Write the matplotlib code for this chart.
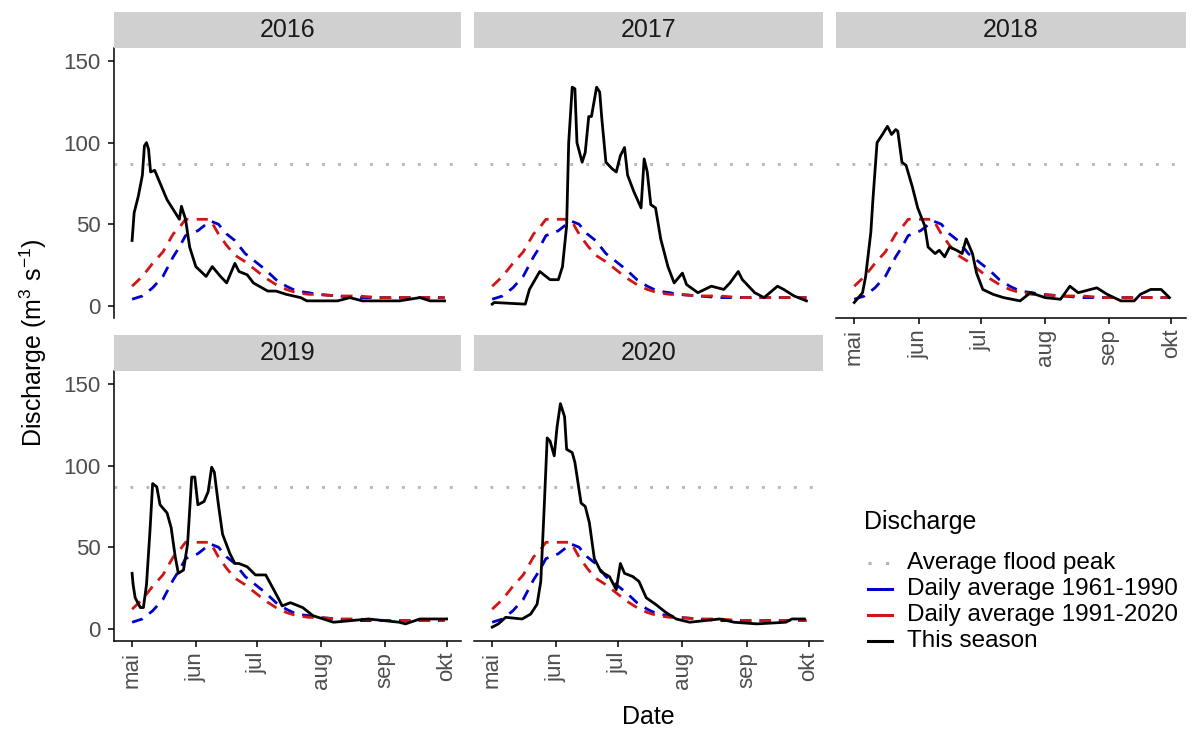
import matplotlib
matplotlib.use("Agg")
import matplotlib.pyplot as plt
from matplotlib.lines import Line2D

plt.rcParams['font.family'] = ['Liberation Sans', 'DejaVu Sans']
plt.rcParams['mathtext.fontset'] = 'custom'
plt.rcParams['mathtext.rm'] = 'Liberation Sans'
plt.rcParams['mathtext.it'] = 'Liberation Sans:italic'

# x values are days since 1 May
month_days = [0, 31, 61, 92, 123, 153]
month_labels = ['mai', 'jun', 'jul', 'aug', 'sep', 'okt']

flood_peak = 87

# daily climatology (same for every season)
clim_days = [0, 5, 10, 15, 20, 23, 26, 32, 38, 42, 46, 50, 55, 60, 65, 70, 75, 80, 86, 90,
             100, 110, 120, 130, 140, 152]
avg_1961_1990 = [4, 6, 11, 18, 30, 36, 43, 46, 52, 50, 44, 40, 32, 27, 22, 16, 12, 9, 8, 7,
                 6, 5, 5, 5, 5, 5]
avg_1991_2020 = [12, 18, 26, 33, 44, 48, 53, 53, 53, 44, 37, 31, 27, 22, 17, 13, 10, 8, 7, 7,
                 6, 6, 5, 5, 5, 5]

days_2016 = [0, 1, 3, 5, 6, 7, 8, 9, 11, 13, 17, 21, 23, 24, 26, 28, 31, 36, 39, 43, 46, 50,
             52, 56, 59, 66, 70, 75, 82, 85, 100, 106, 112, 130, 140, 145, 152]
flow_2016 = [40, 57, 67, 80, 98, 100, 96, 82, 83, 77, 65, 57, 53, 61, 53, 36, 24, 18, 24, 18,
             14, 26, 21, 19, 14, 9, 9, 7, 5, 3, 3, 5, 3, 3, 5, 3, 3]

days_2017 = [0, 1, 16, 18, 23, 28, 32, 34, 36, 37, 38.7, 40, 41, 43.5, 45, 46.7, 48, 50.5, 52,
             53, 55, 58, 60, 62, 64, 65.5, 68.5, 72, 73.5, 75, 76.7, 79, 81.5, 85, 88, 92, 94,
             99.5, 106, 112, 115, 119, 121, 127, 131.5, 138, 141, 146, 152]
flow_2017 = [1, 2, 1, 10, 21, 16, 16, 24, 49, 100, 134, 133, 100, 88, 94, 116, 116, 134, 131,
             115, 88, 84, 82, 92, 97, 80, 70, 60, 90, 82, 62, 60, 41, 24, 14, 20, 13,
             8, 12, 10, 14, 21, 16, 8, 5, 12, 10, 6, 3]

days_2018 = [0, 4, 5.5, 8, 9, 11, 13.6, 16, 18, 20, 21, 23, 25, 28, 30.6, 34, 35.6, 39, 41,
             43.6, 46, 49.4, 52, 54, 57, 59, 62, 67, 72, 80, 85, 92, 99.5, 104, 108, 117, 122,
             128.6, 135, 138, 143, 148, 152]
flow_2018 = [2, 8, 18, 45, 65, 100, 105, 110, 105, 108, 107, 88, 86, 73, 60, 49, 36, 32, 34,
             30, 36, 34, 32, 41, 32, 20, 10, 7, 5, 3, 8, 5, 4, 12, 8, 11, 7,
             3, 3, 7, 10, 10, 5]

days_2019 = [0, 0.5, 1.5, 4, 5.5, 7, 8.7, 10, 12, 13.6, 17, 19, 21, 22.5, 25, 27, 29, 30.5, 32,
             35, 37, 38.7, 40, 42, 44, 47.6, 50, 52, 56, 60, 65, 67.6, 71, 73, 77, 83, 88, 93,
             98, 115, 130, 133, 140, 153]
flow_2019 = [34, 27, 19, 13, 13, 27, 60, 89, 87, 76, 71, 62, 44, 34, 36, 52, 93, 93, 76,
             78, 84, 99, 96, 76, 58, 46, 40, 40, 38, 33, 33, 27, 19, 14, 16, 13, 8, 6,
             4, 6, 4, 3, 6, 6]

days_2020 = [0, 3, 6.5, 14.5, 18.6, 21.7, 23.5, 25, 26.6, 28, 30, 31.4, 33, 35, 36, 38.7, 40,
             43, 45, 47, 49.4, 52.6, 56.7, 60, 62, 64, 68, 71, 74.5, 79, 84, 89, 95.5, 110,
             117, 128, 142, 145, 151]
flow_2020 = [1, 3, 7, 6, 9, 15, 29, 70, 117, 115, 106, 124, 138, 130, 110, 108, 102, 77,
             75, 65, 43, 35, 32, 24, 40, 34, 32, 29, 19, 15, 10, 6, 4, 6, 4, 3, 4, 6, 6]

years = ['2016', '2017', '2018', '2019', '2020']
season_days = [days_2016, days_2017, days_2018, days_2019, days_2020]
season_flow = [flow_2016, flow_2017, flow_2018, flow_2019, flow_2020]

legend_labels = ['Average flood peak', 'Daily average 1961-1990', 'Daily average 1991-2020',
                 'This season']

GREY = '#b3b3b3'
BLUE = '#0000cc'
RED = '#d01515'
DOTS = (0, (1, 4.75))
DASH = (0, (4, 3))

W, H = 1192, 729
fig = plt.figure(figsize=(W / 100, H / 100), dpi=100)

col_px = [(114, 461), (474, 823), (836, 1186)]
row_px = [(48, 318), (371, 641)]
strip_h = 36


def px_rect(x0, x1, y0, y1):
    return [x0 / W, 1 - y1 / H, (x1 - x0) / W, (y1 - y0) / H]


for i, year in enumerate(years):
    r, c = divmod(i, 3)
    x0, x1 = col_px[c]
    y0, y1 = row_px[r]
    ax = fig.add_axes(px_rect(x0, x1, y0, y1))

    ax.axhline(flood_peak, color=GREY, lw=2.0, linestyle=DOTS, zorder=1)
    ax.plot(clim_days, avg_1961_1990, color=BLUE, lw=2.0, linestyle=DASH, zorder=2)
    ax.plot(clim_days, avg_1991_2020, color=RED, lw=2.0, linestyle=DASH, zorder=3)
    ax.plot(season_days[i], season_flow[i], color='black', lw=2.0, zorder=4)

    ax.set_xlim(-8.8, 160)
    ax.set_ylim(-7.5, 158)
    for s in ['top', 'right']:
        ax.spines[s].set_visible(False)

    # y axis only on the first column
    if c == 0:
        ax.spines['left'].set_linewidth(1.1)
        ax.set_yticks([0, 50, 100, 150])
        ax.tick_params(axis='y', length=4, width=1.1, labelsize=16, labelcolor='#4d4d4d',
                       pad=5.5)
    else:
        ax.spines['left'].set_visible(False)
        ax.set_yticks([])

    # x axis on panels with nothing below them
    if r == 1 or c == 2:
        ax.spines['bottom'].set_linewidth(1.1)
        ax.set_xticks(month_days)
        ax.set_xticklabels(month_labels, rotation=90)
        ax.tick_params(axis='x', length=4.3, width=1.1, labelsize=16, labelcolor='#4d4d4d',
                       pad=3.5)
    else:
        ax.spines['bottom'].set_visible(False)
        ax.set_xticks([])

    # facet strip
    sax = fig.add_axes(px_rect(x0, x1, y0 - strip_h, y0))
    sax.set_facecolor('#d0d0d0')
    sax.set_xticks([])
    sax.set_yticks([])
    for s in sax.spines.values():
        s.set_visible(False)
    sax.text(0.5, 0.5, year, ha='center', va='center', fontsize=18, color='#1a1a1a',
             transform=sax.transAxes)

fig.text(33 / W, 1 - 343 / H, r'Discharge (m$^{3}$ s$^{-1}$)', rotation=90,
         ha='center', va='center', fontsize=18)
fig.text(648 / W, 1 - 717 / H, 'Date', ha='center', va='center', fontsize=18)

# legend, drawn by hand in figure pixels
fig.text(864 / W, 1 - 522 / H, 'Discharge', ha='left', va='center', fontsize=18)
key_styles = [(GREY, DOTS), (BLUE, '-'), (RED, '-'), ('black', '-')]
key_y = [563, 589, 615, 641]
for (col, ls), yy, lab in zip(key_styles, key_y, legend_labels):
    fy = 1 - yy / H
    fig.add_artist(Line2D([868 / W, 892 / W], [fy, fy], color=col, lw=2.2, linestyle=ls))
    fig.text(907 / W, fy, lab, ha='left', va='center', fontsize=17.5)

fig.savefig('out.png', dpi=100, facecolor='white')
